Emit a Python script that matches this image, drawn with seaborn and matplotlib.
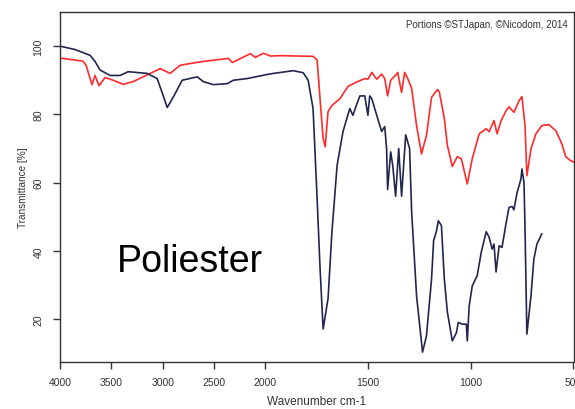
import numpy as np
import pandas as pd
import matplotlib
matplotlib.use("Agg")
import matplotlib.pyplot as plt
import seaborn as sns

# ---- data ----
blue_wn = [4000, 3854, 3707, 3659, 3610, 3512, 3415, 3337, 3151, 3054, 2995, 2956, 2898, 2810,
           2663, 2605, 2507, 2371, 2312, 2176, 1990, 1961, 1864, 1816, 1792, 1768, 1748, 1734,
           1719, 1695, 1676, 1651, 1622, 1589, 1574, 1555, 1540, 1516, 1501, 1492, 1482, 1458,
           1434, 1419, 1410, 1405, 1390, 1380, 1366, 1351, 1337, 1317, 1298, 1288, 1264, 1235,
           1216, 1191, 1181, 1168, 1158, 1143, 1129, 1114, 1090, 1070, 1061, 1041, 1022, 1017,
           1008, 993, 969, 949, 925, 911, 896, 887, 877, 862, 848, 828, 814, 799, 790, 775,
           756, 751, 741, 736, 727, 707, 693, 678, 654]
blue_t = [100, 99, 97.3, 95.5, 93, 91.4, 91.4, 92.5, 92, 90.5, 85.5, 82, 85, 90,
          91, 89.6, 88.7, 89, 90, 90.5, 91.7, 92, 92.8, 92.2, 90, 81.7, 55, 35,
          17.1, 26, 45.6, 65, 75, 81.7, 79.7, 83, 85.4, 85.4, 79.7, 85.4, 84.6, 79.7,
          75, 76.4, 70, 58, 69, 65, 56, 70, 56, 74, 70, 51.4, 26.8, 10.3,
          15, 31.8, 43, 45.6, 48.8, 47.4, 31.8, 22, 13.6, 16, 19, 18.5, 18.5, 13.6,
          23.8, 29.7, 32.7, 39.6, 45.6, 44, 40.5, 42, 33.8, 41.5, 41, 48.2, 52.7, 53, 52, 57,
          61, 64, 60, 46.4, 15.6, 26.8, 37.6, 42, 45]

red_wn = [4000, 3776, 3746, 3707, 3688, 3659, 3620, 3561, 3483, 3385, 3288, 3122, 3024, 2927,
          2829, 2634, 2361, 2322, 2146, 2098, 2020, 1976, 1927, 1768, 1748, 1734, 1719, 1709,
          1695, 1676, 1637, 1598, 1555, 1516, 1501, 1482, 1458, 1434, 1419, 1405, 1390, 1361,
          1356, 1337, 1322, 1307, 1288, 1264, 1240, 1216, 1191, 1162, 1153, 1129, 1114, 1090,
          1066, 1046, 1017, 993, 959, 925, 911, 887, 872, 852, 828, 814, 790, 765, 751, 736,
          727, 707, 683, 654, 620, 586, 557, 538, 513, 498]
red_t = [96.5, 95.6, 94.4, 90.5, 88.7, 91.4, 88.4, 90.8, 90, 88.8, 89.6, 92, 93.4, 92,
         94.4, 95.4, 96.4, 95.2, 97.8, 96.7, 97.9, 97.1, 97.2, 97, 95.9, 84.6, 72.9, 70.5,
         80.8, 82.6, 84.6, 88.2, 89.5, 90.5, 90.3, 92.3, 90.3, 91.8, 90.5, 85.4, 90, 91.8,
         92.3, 86.4, 92.3, 90.5, 87.6, 76.7, 68.4, 73.8, 85, 87.3, 86.5, 78.8, 70.9, 64.7,
         67.6, 67, 59.6, 67, 74.3, 75.8, 74.9, 78.2, 74.3, 78.2, 81.1, 82.2, 80.6, 84, 85.2, 76.7,
         62, 69.9, 74.3, 76.7, 77, 75.2, 71.4, 67.6, 66.4, 66]

x_ticks = [4000, 3500, 3000, 2500, 2000, 1500, 1000, 500]
y_ticks = [20, 40, 60, 80, 100]

blue_df = pd.DataFrame({"wn": blue_wn, "t": blue_t})
red_df = pd.DataFrame({"wn": red_wn, "t": red_t})

sns.set_style("white")
plt.rcParams['font.family'] = ['Liberation Sans', 'DejaVu Sans']

fig = plt.figure(figsize=(5.75, 4.1), dpi=100)
ax = fig.add_axes([60 / 575, 1 - 362.7 / 410, 513.5 / 575, 349.7 / 410])

def fwd(w):
    w = np.asarray(w, dtype=float)
    return np.where(w > 2000, 1000 + w / 2.0, w)

def inv(u):
    u = np.asarray(u, dtype=float)
    return np.where(u > 2000, (u - 1000) * 2.0, u)

ax.set_xscale('function', functions=(fwd, inv))

sns.lineplot(data=red_df, x="wn", y="t", sort=False, color="#ff2a2a", lw=1.2, ax=ax)
sns.lineplot(data=blue_df, x="wn", y="t", sort=False, color="#22264f", lw=1.2, ax=ax)

ax.set_xlim(4000, 500)
ax.set_ylim(7.5, 110)
ax.set_xticks(x_ticks)
ax.set_xticklabels([str(v) for v in x_ticks])
ax.xaxis.set_minor_locator(matplotlib.ticker.NullLocator())
ax.set_yticks(y_ticks)
ax.set_yticklabels([str(v) for v in y_ticks])

for s in ax.spines.values():
    s.set_color("#333333")
    s.set_linewidth(1.0)
    s.set_visible(True)

ax.tick_params(axis='both', which='major', direction='out', length=5, width=1,
               color="#333333", labelcolor="#333333", labelsize=7.5, bottom=True, left=True)
ax.tick_params(axis='x', pad=6)
ax.tick_params(axis='y', pad=7, labelrotation=90)
for lbl in ax.get_yticklabels():
    lbl.set_va('center')

ax.set_xlabel("Wavenumber cm-1", fontsize=8.5, color="#333333")
ax.set_ylabel("Transmittance [%]", fontsize=7.2, color="#333333")
ax.xaxis.set_label_coords(0.5, (362.7 - 401.7) / 349.7)
ax.xaxis.label.set_va('center')
ax.yaxis.set_label_coords((23 - 60) / 513.5, 0.5)
ax.yaxis.label.set_va('center')

ax.text(0.989, (362.7 - 25) / 349.7, "Portions ©STJapan, ©Nicodom, 2014",
        transform=ax.transAxes, ha='right', va='center', fontsize=7, color="#333333")
ax.text((116.7 - 60) / 513.5, (362.7 - 271.7) / 349.7, "Poliester",
        transform=ax.transAxes, ha='left', va='baseline', fontsize=27, color="black")

fig.savefig("out.png", dpi=100)
